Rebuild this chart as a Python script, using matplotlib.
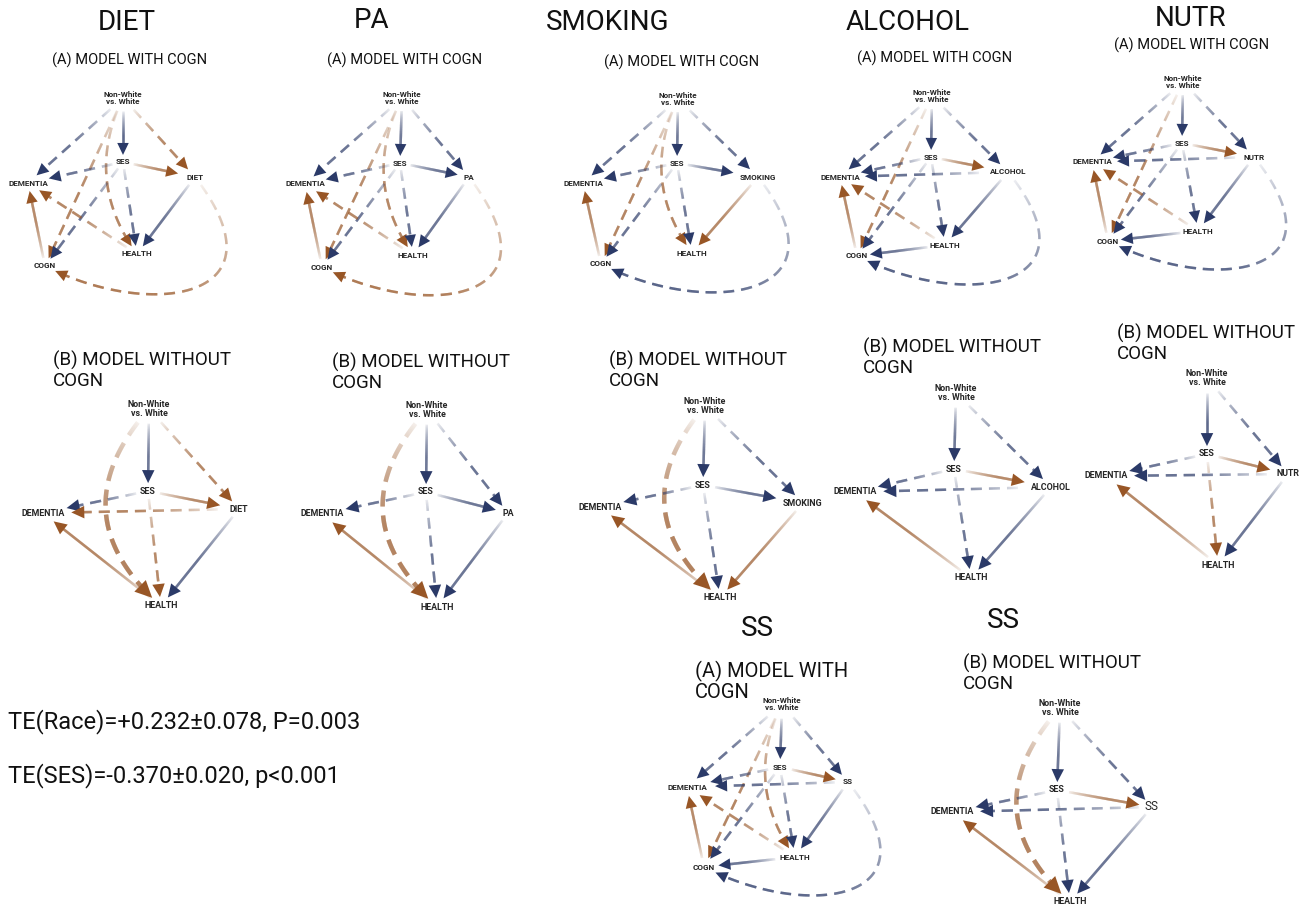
import numpy as np
import matplotlib.pyplot as plt
import matplotlib.colors as mcolors
from matplotlib.collections import LineCollection
from matplotlib.patches import Polygon

plt.rcParams['font.family'] = ['Roboto', 'DejaVu Sans']

# ---------------------------------------------------------------------------
# data: path edges per model (src, dst, sign of effect, significant)
# '+' = positive effect (brown), '-' = negative effect (blue)
# significant -> solid line, otherwise dashed
# ---------------------------------------------------------------------------
mediators = ['DIET', 'PA', 'SMOKING', 'ALCOHOL', 'NUTR', 'SS']

edges_with_cogn = {
    'DIET': [('NW', 'DEM', '-', 0), ('NW', 'SES', '-', 1), ('NW', 'M', '+', 0),
             ('NW', 'COGN', '+', 0), ('NW', 'HEALTH', '+', 0), ('SES', 'DEM', '-', 0),
             ('SES', 'M', '+', 1), ('SES', 'COGN', '-', 0), ('SES', 'HEALTH', '-', 0),
             ('M', 'HEALTH', '-', 1), ('M', 'COGN', '+', 0), ('COGN', 'DEM', '+', 1),
             ('HEALTH', 'DEM', '+', 0)],
    'PA': [('NW', 'DEM', '-', 0), ('NW', 'SES', '-', 1), ('NW', 'M', '-', 0),
           ('NW', 'COGN', '+', 0), ('NW', 'HEALTH', '+', 0), ('SES', 'DEM', '-', 0),
           ('SES', 'M', '-', 1), ('SES', 'COGN', '-', 0), ('SES', 'HEALTH', '-', 0),
           ('M', 'HEALTH', '-', 1), ('M', 'COGN', '+', 0), ('COGN', 'DEM', '+', 1),
           ('HEALTH', 'DEM', '+', 0)],
    'SMOKING': [('NW', 'DEM', '-', 0), ('NW', 'SES', '-', 1), ('NW', 'M', '-', 0),
                ('NW', 'COGN', '+', 0), ('NW', 'HEALTH', '+', 0), ('SES', 'DEM', '-', 0),
                ('SES', 'M', '-', 1), ('SES', 'COGN', '-', 0), ('SES', 'HEALTH', '-', 0),
                ('M', 'HEALTH', '+', 1), ('M', 'COGN', '-', 0), ('COGN', 'DEM', '+', 1)],
    'ALCOHOL': [('NW', 'DEM', '-', 0), ('NW', 'SES', '-', 1), ('NW', 'M', '-', 0),
                ('NW', 'COGN', '+', 0), ('SES', 'DEM', '-', 0), ('SES', 'M', '+', 1),
                ('SES', 'COGN', '-', 0), ('SES', 'HEALTH', '-', 0), ('M', 'DEM', '-', 0),
                ('M', 'HEALTH', '-', 1), ('M', 'COGN', '-', 0), ('COGN', 'DEM', '+', 1),
                ('HEALTH', 'DEM', '+', 0), ('HEALTH', 'COGN', '-', 1)],
    'NUTR': [('NW', 'DEM', '-', 0), ('NW', 'SES', '-', 1), ('NW', 'M', '-', 0),
             ('NW', 'COGN', '+', 0), ('SES', 'DEM', '-', 0), ('SES', 'M', '+', 1),
             ('SES', 'COGN', '-', 0), ('SES', 'HEALTH', '-', 0), ('M', 'DEM', '-', 0),
             ('M', 'HEALTH', '-', 1), ('M', 'COGN', '-', 0), ('COGN', 'DEM', '+', 1),
             ('HEALTH', 'DEM', '+', 0), ('HEALTH', 'COGN', '-', 1)],
    'SS': [('NW', 'DEM', '-', 0), ('NW', 'SES', '-', 1), ('NW', 'M', '-', 0),
           ('NW', 'COGN', '+', 0), ('NW', 'HEALTH', '+', 0), ('SES', 'DEM', '-', 0),
           ('SES', 'M', '+', 1), ('SES', 'COGN', '-', 0), ('SES', 'HEALTH', '-', 0),
           ('M', 'DEM', '-', 0), ('M', 'HEALTH', '-', 1), ('M', 'COGN', '-', 0),
           ('COGN', 'DEM', '+', 1), ('HEALTH', 'DEM', '+', 0), ('HEALTH', 'COGN', '-', 1)],
}

edges_without_cogn = {
    'DIET': [('NW', 'SES', '-', 1), ('NW', 'M', '+', 0), ('NW', 'HEALTH', '+', 0),
             ('SES', 'DEM', '-', 0), ('SES', 'M', '+', 1), ('SES', 'HEALTH', '+', 0),
             ('M', 'DEM', '+', 0), ('M', 'HEALTH', '-', 1), ('HEALTH', 'DEM', '+', 1)],
    'PA': [('NW', 'SES', '-', 1), ('NW', 'M', '-', 0), ('NW', 'HEALTH', '+', 0),
           ('SES', 'DEM', '-', 0), ('SES', 'M', '-', 1), ('SES', 'HEALTH', '-', 0),
           ('M', 'HEALTH', '-', 1), ('HEALTH', 'DEM', '+', 1)],
    'SMOKING': [('NW', 'SES', '-', 1), ('NW', 'M', '-', 0), ('NW', 'HEALTH', '+', 0),
                ('SES', 'DEM', '-', 0), ('SES', 'M', '-', 1), ('SES', 'HEALTH', '-', 0),
                ('M', 'HEALTH', '+', 1), ('HEALTH', 'DEM', '+', 1)],
    'ALCOHOL': [('NW', 'SES', '-', 1), ('NW', 'M', '-', 0), ('SES', 'DEM', '-', 0),
                ('SES', 'M', '+', 1), ('SES', 'HEALTH', '-', 0), ('M', 'DEM', '-', 0),
                ('M', 'HEALTH', '-', 1), ('HEALTH', 'DEM', '+', 1)],
    'NUTR': [('NW', 'SES', '-', 1), ('NW', 'M', '-', 0), ('SES', 'DEM', '-', 0),
             ('SES', 'M', '+', 1), ('SES', 'HEALTH', '+', 0), ('M', 'DEM', '-', 0),
             ('M', 'HEALTH', '-', 1), ('HEALTH', 'DEM', '+', 1)],
    'SS': [('NW', 'SES', '-', 1), ('NW', 'M', '-', 0), ('NW', 'HEALTH', '+', 0),
           ('SES', 'DEM', '-', 0), ('SES', 'M', '+', 1), ('SES', 'HEALTH', '-', 0),
           ('M', 'DEM', '-', 0), ('M', 'HEALTH', '-', 1), ('HEALTH', 'DEM', '+', 1)],
}

te_text = ['TE(Race)=+0.232\u00b10.078, P=0.003',
           'TE(SES)=-0.370\u00b10.020, p<0.001']

# ---------------------------------------------------------------------------
# layout (figure pixel coordinates, y downwards)
# ---------------------------------------------------------------------------
NODES_A = {
    'DIET':    dict(NW=(123, 98), SES=(123, 162), M=(195, 177), DEM=(28, 183), HEALTH=(137, 254), COGN=(45, 266)),
    'PA':      dict(NW=(402, 98), SES=(400, 163), M=(469, 177), DEM=(305, 184), HEALTH=(413, 255), COGN=(322, 267)),
    'SMOKING': dict(NW=(678, 99), SES=(677, 163), M=(758, 177), DEM=(583, 183), HEALTH=(692, 253), COGN=(601, 264)),
    'ALCOHOL': dict(NW=(932, 96), SES=(931, 157), M=(1008, 172), DEM=(840, 177), HEALTH=(945, 245), COGN=(857, 256)),
    'NUTR':    dict(NW=(1183, 82), SES=(1182, 143), M=(1254, 157), DEM=(1092, 162), HEALTH=(1198, 231), COGN=(1108, 241)),
    'SS':      dict(NW=(782, 704), SES=(780, 767), M=(848, 782), DEM=(687, 787), HEALTH=(795, 857), COGN=(704, 867)),
}
NODES_B = {
    'DIET':    dict(NW=(149, 409), SES=(148, 491), M=(239, 509), DEM=(43, 513), HEALTH=(161, 606)),
    'PA':      dict(NW=(427, 410), SES=(426, 492), M=(508, 513), DEM=(322, 514), HEALTH=(437, 607)),
    'SMOKING': dict(NW=(705, 406), SES=(703, 485), M=(803, 503), DEM=(600, 507), HEALTH=(720, 598)),
    'ALCOHOL': dict(NW=(956, 393), SES=(954, 469), M=(1051, 487), DEM=(855, 492), HEALTH=(971, 578)),
    'NUTR':    dict(NW=(1207, 378), SES=(1207, 454), M=(1288, 474), DEM=(1106, 476), HEALTH=(1218, 565)),
    'SS':      dict(NW=(1060, 708), SES=(1057, 790), M=(1152, 807), DEM=(952, 812), HEALTH=(1070, 902)),
}
TITLES = [('DIET', 127, 23), ('PA', 372, 20), ('SMOKING', 608, 22), ('ALCOHOL', 908, 22),
          ('NUTR', 1191, 18), ('SS', 757, 628), ('SS', 1003, 620)]
SUB_A = {'DIET': (130, 60), 'PA': (405, 60), 'SMOKING': (682, 62), 'ALCOHOL': (935, 58),
         'NUTR': (1192, 45)}
SUB_B = {'DIET': (53, 360), 'PA': (332, 362), 'SMOKING': (609, 360), 'ALCOHOL': (863, 347),
         'NUTR': (1117, 333), 'SS': (963, 663)}

BLUE = '#2b3a68'
BROWN = '#985626'
TXT = '#262626'


def bezier(ctrl, n=500):
    c = np.asarray(ctrl, float)
    t = np.linspace(0, 1, n)[:, None]
    if len(c) == 2:
        return c[0] * (1 - t) + c[1] * t
    if len(c) == 3:
        return (1 - t) ** 2 * c[0] + 2 * (1 - t) * t * c[1] + t ** 2 * c[2]
    return ((1 - t) ** 3 * c[0] + 3 * (1 - t) ** 2 * t * c[1]
            + 3 * (1 - t) * t ** 2 * c[2] + t ** 3 * c[3])


def inside(pts, c, ab):
    return ((pts[:, 0] - c[0]) / ab[0]) ** 2 + ((pts[:, 1] - c[1]) / ab[1]) ** 2 < 1


def draw_edge(ax, ctrl, box0, box1, color, solid, lw=1.8, head=12, dash=(11, 7)):
    pts = bezier(ctrl)
    keep = ~inside(pts, ctrl[0], box0) & ~inside(pts, ctrl[-1], box1)
    idx = np.where(keep)[0]
    pts = pts[idx[0]:idx[-1] + 1]
    d = np.hypot(*np.diff(pts, axis=0).T)
    s = np.concatenate([[0], np.cumsum(d)])
    L = s[-1]
    tip = pts[-1]
    j = np.searchsorted(s, L - 5)
    u = tip - pts[j]
    u = u / np.hypot(*u)
    cut = s <= L - head * 0.75
    line, sl = pts[cut], s[cut]
    segs = np.stack([line[:-1], line[1:]], axis=1)
    mid = 0.5 * (sl[:-1] + sl[1:])
    # fade in from the source end
    alpha = 0.08 + 0.92 * np.clip(mid / (0.55 * L), 0, 1) ** 0.9
    on = np.ones(len(segs), bool) if solid else (mid % sum(dash)) < dash[0]
    rgba = np.tile(mcolors.to_rgba(color), (len(segs), 1))
    rgba[:, 3] = alpha
    ax.add_collection(LineCollection(segs[on], colors=rgba[on], linewidths=lw,
                                     capstyle='butt', zorder=2))
    nrm = np.array([-u[1], u[0]])
    base = tip - u * head
    ax.add_patch(Polygon([tip, base + nrm * head * 0.48, base - nrm * head * 0.48],
                         closed=True, facecolor=color, edgecolor='none', zorder=3))


def draw_panel(ax, med, nodes, edges, with_cogn):
    big = not with_cogn or med == 'SS'
    k = 1.12 if big else 1.0
    boxes = {'NW': (24 * k, 13 * k), 'SES': (11 * k, 7 * k), 'DEM': (25 * k, 8 * k),
             'HEALTH': (18 * k, 8 * k), 'COGN': (13 * k, 8 * k),
             'M': (len(med) * (4.0 if big else 3.4) + 5, 8)}
    fs = 6.4 if not with_cogn else 5.9
    for src, dst, sign, sig in edges:
        p0 = np.array(nodes[src], float)
        p1 = np.array(nodes[dst], float)
        color = BROWN if sign == '+' else BLUE
        lw, head, dash = 1.8, 12, (11, 7)
        if not with_cogn:
            head = 13
        if with_cogn and (src, dst) == ('M', 'COGN'):
            ctrl = [p0, (p0[0] + 95, p1[1] + 34), (p1[0] + 105, p1[1] + 54), p1]
        elif (src, dst) == ('NW', 'HEALTH'):
            v = p1 - p0
            n = np.array([-v[1], v[0]])
            bend = 0.3 if with_cogn else 0.5
            ctrl = [p0, (p0 + p1) / 2 + bend * n, p1]
            if not with_cogn:
                lw, head, dash = 3.2, 17, (16, 9)
        else:
            ctrl = [p0, p1]
        draw_edge(ax, ctrl, boxes[src], boxes[dst], color, bool(sig), lw, head, dash)

    names = {'NW': 'Non-White\nvs. White', 'SES': 'SES', 'DEM': 'DEMENTIA',
             'HEALTH': 'HEALTH', 'COGN': 'COGN', 'M': med}
    for key, (x, y) in nodes.items():
        if key == 'M' and med == 'SS':
            ax.text(x, y, med, fontsize=fs if with_cogn else 8.5,
                    fontweight='bold' if with_cogn else 'normal',
                    color=TXT, ha='center', va='center', zorder=5)
            continue
        ax.text(x, y, names[key], fontsize=fs, fontweight='bold', color=TXT,
                ha='center', va='center', linespacing=1.05, zorder=5)


fig = plt.figure(figsize=(13.15, 9.09), dpi=100)
ax = fig.add_axes([0, 0, 1, 1])
ax.set_xlim(0, 1315)
ax.set_ylim(909, 0)
ax.axis('off')

for med in mediators:
    draw_panel(ax, med, NODES_A[med], edges_with_cogn[med], True)
    draw_panel(ax, med, NODES_B[med], edges_without_cogn[med], False)

for label, x, y in TITLES:
    ax.text(x, y, label, fontsize=20, color='#111111', ha='center', va='center')
for med, (x, y) in SUB_A.items():
    ax.text(x, y, '(A) MODEL WITH COGN', fontsize=10.5, color='#111111', ha='center', va='center')
ax.text(695, 671, '(A) MODEL WITH', fontsize=14.5, color='#111111', ha='left', va='center')
ax.text(695, 692, 'COGN', fontsize=14.5, color='#111111', ha='left', va='center')
for med, (x, y) in SUB_B.items():
    ax.text(x, y, '(B) MODEL WITHOUT', fontsize=13.5, color='#111111', ha='left', va='center')
    ax.text(x, y + 21, 'COGN', fontsize=13.5, color='#111111', ha='left', va='center')

ax.text(8, 722, te_text[0], fontsize=17, color='#111111', ha='left', va='center')
ax.text(8, 776, te_text[1], fontsize=17, color='#111111', ha='left', va='center')

fig.savefig('out.png', dpi=100)
